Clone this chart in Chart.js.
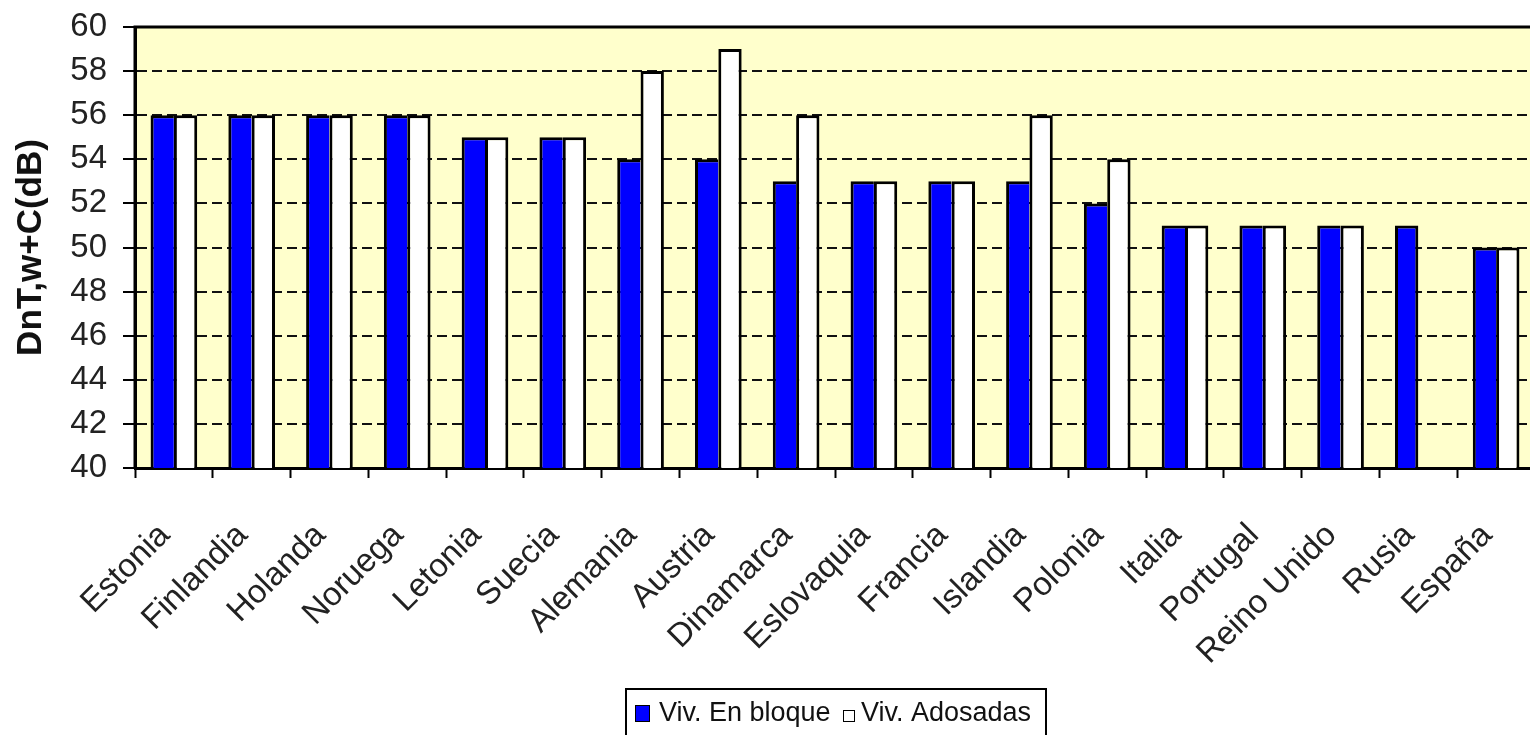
<!DOCTYPE html>
<html>
<head>
<meta charset="utf-8">
<script src="https://cdn.jsdelivr.net/npm/chart.js@4/dist/chart.umd.min.js"></script>
<style>
  html, body { margin: 0; padding: 0; background: #fff; overflow: hidden; }
  #wrap { width: 1530px; height: 735px; overflow: hidden; position: relative; }
  #wrap canvas { position: absolute; left: 0; top: 0; }
</style>
</head>
<body>
<div id="wrap"><canvas id="grafico" width="1545" height="735"></canvas></div>
<script>
// datos
let paises = ['Estonia', 'Finlandia', 'Holanda', 'Noruega', 'Letonia', 'Suecia', 'Alemania', 'Austria', 'Dinamarca',
  'Eslovaquia', 'Francia', 'Islandia', 'Polonia', 'Italia', 'Portugal', 'Reino Unido', 'Rusia', 'España'];
let enBloque = [56, 56, 56, 56, 55, 55, 54, 54, 53, 53, 53, 53, 52, 51, 51, 51, 51, 50];
let adosadas = [56, 56, 56, 56, 55, 55, 58, 59, 56, 53, 53, 56, 54, 51, 51, 51, null, 50];
let yMin = 40, yMax = 60, yPaso = 2;
let nombreSeries = ['Viv. En bloque', 'Viv. Adosadas'];

const FUENTE = '"Liberation Sans", Arial, sans-serif';

// fondo amarillo y marco del area del grafico
const fondo = {
  id: 'fondo',
  beforeDraw(chart) {
    let a = chart.chartArea, ctx = chart.ctx;
    ctx.save();
    ctx.fillStyle = '#FFFFCC';
    ctx.fillRect(a.left, a.top, a.right - a.left, a.bottom - a.top);
    ctx.restore();
  },
  afterDatasetsDraw(chart) {
    let a = chart.chartArea, ctx = chart.ctx;
    ctx.save();
    ctx.strokeStyle = '#000';
    ctx.lineWidth = 3;
    ctx.beginPath();
    ctx.moveTo(a.left, a.bottom);
    ctx.lineTo(a.left, a.top);
    ctx.lineTo(a.right, a.top);
    ctx.stroke();
    ctx.restore();
  }
};

// leyenda con marco, como en el original
const leyenda = {
  id: 'leyenda',
  afterDraw(chart) {
    let ctx = chart.ctx;
    let ds = chart.data.datasets;
    ctx.save();
    ctx.strokeStyle = '#000';
    ctx.lineWidth = 2;
    ctx.strokeRect(626, 689, 420, 70);
    ctx.font = '27px ' + FUENTE;
    ctx.textBaseline = 'middle';
    // serie 1
    ctx.fillStyle = ds[0].backgroundColor;
    ctx.fillRect(635, 705, 15, 17);
    ctx.lineWidth = 1;
    ctx.strokeRect(635.5, 705.5, 14, 16);
    ctx.fillStyle = '#111';
    ctx.fillText(ds[0].label, 659, 714);
    // serie 2
    ctx.fillStyle = ds[1].backgroundColor;
    ctx.fillRect(843, 710, 12, 12);
    ctx.strokeRect(843.5, 710.5, 11, 11);
    ctx.fillStyle = '#111';
    ctx.fillText(ds[1].label, 861, 714);
    ctx.restore();
  }
};

let ctx = document.getElementById('grafico').getContext('2d');
let grafico = new Chart(ctx, {
  type: 'bar',
  data: {
    labels: paises,
    datasets: [{
      label: nombreSeries[0],
      data: enBloque,
      backgroundColor: '#0000FF',
      borderColor: '#000',
      borderWidth: 3,
      borderSkipped: c => adosadas[c.dataIndex] == null ? 'bottom' : 'right',
      categoryPercentage: 0.6,
      barPercentage: 1
    }, {
      label: nombreSeries[1],
      data: adosadas,
      backgroundColor: '#FFFFFF',
      borderColor: '#000',
      borderWidth: 3,
      borderSkipped: 'bottom',
      categoryPercentage: 0.6,
      barPercentage: 1
    }]
  },
  options: {
    responsive: false,
    animation: false,
    layout: { padding: { top: 27, right: 10, left: 0, bottom: 0 } },
    plugins: {
      legend: { display: false },
      tooltip: { enabled: false }
    },
    scales: {
      x: {
        offset: true,
        grid: { offset: true, drawOnChartArea: false, tickLength: 10, tickColor: '#000', tickWidth: 2 },
        border: { color: '#000', width: 3 },
        ticks: {
          minRotation: 45, maxRotation: 45, autoSkip: false, padding: 38, labelOffset: -9,
          color: '#222', font: { family: FUENTE, size: 33 }
        },
        afterFit: s => { s.height = 735 - 468; s.paddingLeft = 0; s.paddingRight = 0; }
      },
      y: {
        min: yMin, max: yMax,
        grid: { color: '#111', lineWidth: 2, tickLength: 12, tickColor: '#000', tickWidth: 2 },
        border: { color: '#000', width: 3, dash: [10, 5] },
        ticks: { stepSize: yPaso, autoSkip: false, padding: 16, color: '#222', font: { family: FUENTE, size: 33 } },
        title: {
          display: true, text: 'DnT,w+C(dB)', color: '#111',
          font: { family: FUENTE, size: 35, weight: 'bold' },
          padding: { top: 10, bottom: 0 }
        },
        afterFit: s => { s.width = 135; s.paddingTop = 0; s.paddingBottom = 0; }
      }
    }
  },
  plugins: [fondo, leyenda]
});
</script>
</body>
</html>
